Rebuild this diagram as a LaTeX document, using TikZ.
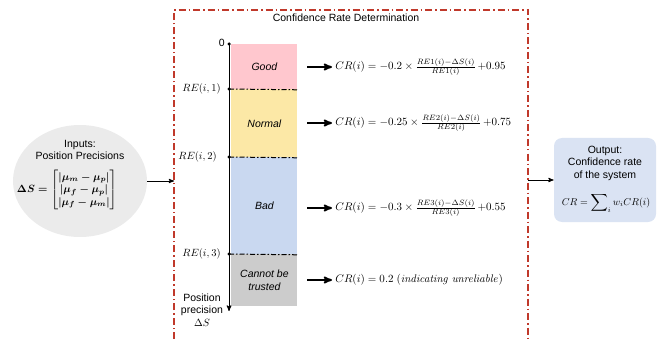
\RequirePackage{fix-cm}
\documentclass[tikz,border=0pt]{standalone}
\usepackage[no-math]{fontspec}
\setmainfont{Liberation Sans}
\usepackage{amsmath}
\usepackage{tikz}
\usetikzlibrary{arrows,positioning,shapes,shapes.geometric}

\definecolor{goodpink}{RGB}{255,199,206}
\definecolor{normalyellow}{RGB}{252,232,166}
\definecolor{badblue}{RGB}{201,216,240}
\definecolor{trustgray}{RGB}{204,204,204}
\definecolor{framered}{RGB}{192,57,43}
\definecolor{ingray}{RGB}{235,235,235}
\definecolor{outblue}{RGB}{218,227,243}

\newsavebox{\dsbox}
\newcommand{\bigsum}{\mathop{\vcenter{\hbox{\fontsize{13}{13}\selectfont$\displaystyle\sum$}}}\nolimits}

\begin{document}
\sbox{\dsbox}{\fontsize{10.5}{12.5}\selectfont\boldmath$\Delta S = \left[\begin{array}{@{}c@{}} \lvert\mu_m-\mu_p\rvert \\ \lvert\mu_f-\mu_p\rvert \\ \lvert\mu_f-\mu_m\rvert \end{array}\right]$}%
\begin{tikzpicture}[x=1pt, y=-1pt, >=stealth', thick, inner sep=0pt, font=\fontsize{10.5}{12.5}\selectfont]
	\tikzset{band/.style={minimum width=66pt, anchor=north west, font=\fontsize{10.5}{12.5}\selectfont\itshape, align=center}}
	\tikzset{bound/.style={line width=1pt, dash pattern=on 5pt off 2pt on 1.5pt off 2pt}}
	\tikzset{flow/.style={->, line width=1.8pt, shorten >=3pt}}
	\tikzset{link/.style={->, line width=0.9pt}}
	\tikzset{tick/.style={circle, fill=black, minimum size=3.5pt}}
	\tikzset{formula/.style={anchor=west, font=\fontsize{11}{13}\selectfont}}
	\tikzset{frame/.style={draw=framered, line width=1.4pt, dash pattern=on 7pt off 3pt on 1.5pt off 3pt}}
	% Colors: goodpink, normalyellow, badblue, trustgray...

	\useasboundingbox (0,0) rectangle (671,339);

	% Frame
	\coordinate (fbl) at (174,339);
	\coordinate (ftl) at (174,10);
	\coordinate (ftr) at (528,10);
	\coordinate (fbr) at (528,339);
	\draw[frame] (fbl) -- (ftl) -- (ftr) -- (fbr);
	\node (title) at (346,18) {Confidence Rate Determination};

	% Bands
	\node[band, fill=goodpink, minimum height=45pt] (good) at (231,44) {Good};
	\node[band, fill=normalyellow, minimum height=68pt] (normal) at (231,89) {Normal};
	\node[band, fill=badblue, minimum height=97pt] (bad) at (231,157) {Bad};
	\node[band, fill=trustgray, minimum height=52pt] (trust) at (231,254) {Cannot be\\trusted};

	% Axis
	\coordinate (axtop) at (229,44);
	\coordinate (axend) at (229,311);
	\draw[->, line width=1pt] (axtop) -- (axend);
	\node[tick] (t0) at (229,44) {};
	\node[tick] (t1) at (229,89) {};
	\node[tick] (t2) at (229,157) {};
	\node[tick] (t3) at (229,254) {};
	\draw[bound] (t1.center) -- (good.south east);
	\draw[bound] (t2.center) -- (normal.south east);
	\draw[bound] (t3.center) -- (bad.south east);
	\node[anchor=east] (zero) at (225,43) {0};
	\node[anchor=east] (re1) at (221,89) {$RE(i,1)$};
	\node[anchor=east] (re2) at (217,157) {$RE(i,2)$};
	\node[anchor=east] (re3) at (221,254) {$RE(i,3)$};
	\node[align=center] (prec) at (202,310) {Position\\precision\\$\Delta S$};

	% Rates
	\node[formula] (f1) at (335,67) {$CR(i) = -0.2 \times \frac{RE1(i)-\Delta S(i)}{RE1(i)}\,{+}0.95$};
	\node[formula] (f2) at (335,123) {$CR(i) = -0.25 \times \frac{RE2(i)-\Delta S(i)}{RE2(i)}\,{+}0.75$};
	\node[formula] (f3) at (335,208) {$CR(i) = -0.3 \times \frac{RE3(i)-\Delta S(i)}{RE3(i)}\,{+}0.55$};
	\node[formula] (f4) at (335,280) {$CR(i) = 0.2\ (\mathit{indicating\ unreliable})$};
	\coordinate (a1) at (307,67);
	\coordinate (a2) at (307,123);
	\coordinate (a3) at (307,208);
	\coordinate (a4) at (307,280);
	\draw[flow] (a1) -- (f1.west);
	\draw[flow] (a2) -- (f2.west);
	\draw[flow] (a3) -- (f3.west);
	\draw[flow] (a4) -- (f4.west);

	% Input
	\node[ellipse, fill=ingray, minimum width=134pt, minimum height=112pt] (input) at (80,181) {};
	\node[align=center] (intitle) at (80,150) {Inputs:\\Position Precisions};
	\node (inmat) at (67,190) {\usebox{\dsbox}};
	\draw[link] (input.east) -- (ftl |- input.east);

	% Output
	\node[rounded corners=8pt, fill=outblue, minimum width=102pt, minimum height=84pt] (output) at (605,180) {};
	\node[align=center] (outtxt) at (605,163) {Output:\\Confidence rate\\of the system};
	\node[font=\fontsize{10}{12}\selectfont] (outeq) at (606,203) {$CR = \bigsum_i w_i CR(i)$};
	\draw[link] (ftr |- output.west) -- (output.west);
\end{tikzpicture}
\end{document}
